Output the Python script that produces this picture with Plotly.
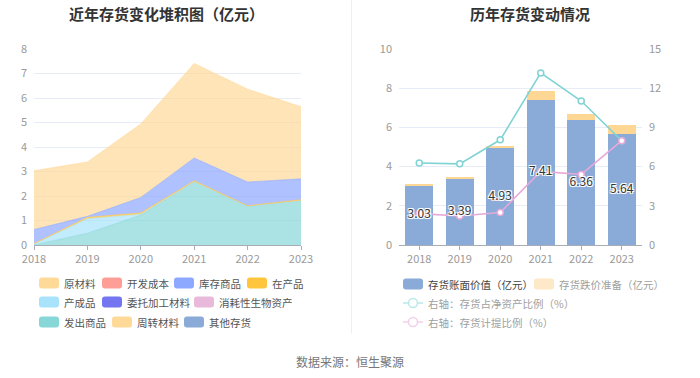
import plotly.graph_objects as go

# ---------------- data ----------------
years = [2018, 2019, 2020, 2021, 2022, 2023]
year_labels = ["2018", "2019", "2020", "2021", "2022", "2023"]

# left chart (亿元)
raw_material = [2.40, 2.22, 3.00, 3.86, 3.79, 2.94]      # 原材料
dev_cost = [0, 0, 0, 0, 0, 0]                              # 开发成本
stock_goods = [0.57, 0.04, 0.63, 0.93, 0.97, 0.85]        # 库存商品
wip = [0.03, 0.06, 0.06, 0.05, 0.03, 0.05]                 # 在产品
finished = [0.03, 0.59, 0.03, 0.0, 0.0, 0.0]               # 产成品
consigned = [0, 0, 0, 0, 0, 0]                             # 委托加工材料
bio_assets = [0, 0, 0, 0, 0, 0]                            # 消耗性生物资产
shipped = [0.0, 0.48, 1.22, 2.57, 1.57, 1.80]              # 发出商品
turnover = [0, 0, 0, 0, 0, 0]                              # 周转材料
other_inv = [0, 0, 0, 0, 0, 0]                             # 其他存货

# right chart
book_value = [3.03, 3.39, 4.93, 7.41, 6.36, 5.64]         # 存货账面价值（亿元）
impairment = [0.07, 0.07, 0.13, 0.43, 0.34, 0.48]         # 存货跌价准备（亿元）
ratio_net_assets = [6.27, 6.21, 8.05, 13.17, 11.02, 7.98]  # 存货占净资产比例（%）
provision_ratio = [2.40, 2.22, 2.48, 5.63, 5.40, 7.98]    # 存货计提比例（%）

W, H = 700, 378
FONT = "Noto Sans CJK SC, Noto Sans, sans-serif"


def px(x):
    return x / W


def py(y):
    return 1 - y / H


def rgba(hexc, a):
    hexc = hexc.lstrip("#")
    r, g, b = int(hexc[0:2], 16), int(hexc[2:4], 16), int(hexc[4:6], 16)
    return f"rgba({r},{g},{b},{a})"


fig = go.Figure()

# ---------------- left: stacked area ----------------
area_series = [
    ("发出商品", shipped, "#88d7d8"),
    ("产成品", finished, "#a8e2fb"),
    ("在产品", wip, "#ffc53d"),
    ("库存商品", stock_goods, "#8da8ff"),
    ("原材料", raw_material, "#ffd998"),
    ("开发成本", dev_cost, "#ff9e96"),
    ("委托加工材料", consigned, "#7376f0"),
    ("消耗性生物资产", bio_assets, "#e8b9da"),
    ("周转材料", turnover, "#ffd998"),
    ("其他存货", other_inv, "#8aaad8"),
]
for name, vals, col in area_series:
    nonzero = any(v > 0 for v in vals)
    fig.add_trace(go.Scatter(
        x=years, y=vals, name=name, stackgroup="inv", mode="lines",
        line=dict(color=col, width=0.6 if nonzero else 0),
        fillcolor=rgba(col, 0.7),
        xaxis="x", yaxis="y", showlegend=False,
    ))

# ---------------- right: bars + lines ----------------
fig.add_trace(go.Bar(
    x=years, y=book_value, name="存货账面价值（亿元）",
    marker=dict(color="#8aaad8", line=dict(width=0)),
    xaxis="x2", yaxis="y2", showlegend=False,
))
fig.add_trace(go.Bar(
    x=years, y=impairment, name="存货跌价准备（亿元）",
    marker=dict(color="#ffd794", line=dict(width=0)),
    xaxis="x2", yaxis="y2", showlegend=False,
))
fig.add_trace(go.Scatter(
    x=years, y=ratio_net_assets, name="右轴：存货占净资产比例（%）",
    mode="lines+markers",
    line=dict(color="#7fd3d4", width=1.6),
    marker=dict(symbol="circle", size=6, color="white",
                line=dict(color="#7fd3d4", width=1.5)),
    xaxis="x2", yaxis="y3", showlegend=False,
))
fig.add_trace(go.Scatter(
    x=years, y=provision_ratio, name="右轴：存货计提比例（%）",
    mode="lines+markers",
    line=dict(color="#e6a9d9", width=1.6),
    marker=dict(symbol="circle", size=6, color="white",
                line=dict(color="#e6a9d9", width=1.5)),
    xaxis="x2", yaxis="y3", showlegend=False,
))
# value labels, centred in the book-value bars, drawn above the lines
fig.add_trace(go.Scatter(
    x=years, y=[v / 2 for v in book_value],
    text=[f"{v:.2f}" for v in book_value], mode="text",
    textfont=dict(family=FONT, size=12, color="#333333",
                  shadow="-1px -1px 0 #fff, 1px -1px 0 #fff, -1px 1px 0 #fff, 1px 1px 0 #fff, 0 0 2px #fff"),
    xaxis="x2", yaxis="y4", showlegend=False, hoverinfo="skip",
))

y_dom = [py(245), py(49)]
tickfont = dict(family=FONT, size=11, color="#9a9a9a")
grid = "#e8ecf6"

fig.update_layout(
    width=W, height=H,
    margin=dict(l=0, r=0, t=0, b=0, autoexpand=False),
    paper_bgcolor="white", plot_bgcolor="white",
    font=dict(family=FONT),
    barmode="stack", bargap=0.31,
    xaxis=dict(domain=[px(34), px(301)], range=[2018, 2023],
               tickvals=years, ticktext=year_labels, tickfont=tickfont,
               showgrid=False, zeroline=False, showline=True,
               linecolor="#a8acb6", ticks="outside", ticklen=4,
               tickcolor="#a8acb6", anchor="y", automargin=False),
    yaxis=dict(domain=y_dom, range=[0, 8], dtick=1, tickfont=tickfont,
               showgrid=True, gridcolor=grid, zeroline=False,
               showline=False, anchor="x", ticklabelstandoff=6,
               automargin=False),
    xaxis2=dict(domain=[px(399), px(642)], range=[2017.5, 2023.5],
                tickvals=years, ticktext=year_labels, tickfont=tickfont,
                showgrid=False, zeroline=False, showline=True,
                linecolor="#a8acb6", ticks="outside", ticklen=4,
                tickcolor="#a8acb6", anchor="y2", automargin=False),
    yaxis2=dict(domain=y_dom, range=[0, 10], dtick=2, tickfont=tickfont,
                showgrid=True, gridcolor=grid, zeroline=False,
                showline=False, anchor="x2", ticklabelstandoff=6,
                automargin=False),
    yaxis3=dict(domain=y_dom, range=[0, 15], dtick=3, tickfont=tickfont,
                overlaying="y2", side="right", anchor="x2",
                showgrid=False, zeroline=False, showline=False,
                ticklabelstandoff=6, automargin=False),
    yaxis4=dict(domain=y_dom, range=[0, 10], overlaying="y2",
                anchor="x2", visible=False, automargin=False),
)

annotations = []
shapes = []

# titles
annotations.append(dict(text="<b>近年存货变化堆积图（亿元）</b>", x=px(166), y=py(14),
                        xref="paper", yref="paper", showarrow=False,
                        font=dict(family=FONT, size=15, color="#333333"),
                        xanchor="center", yanchor="middle"))
annotations.append(dict(text="<b>历年存货变动情况</b>", x=px(530), y=py(14),
                        xref="paper", yref="paper", showarrow=False,
                        font=dict(family=FONT, size=15, color="#333333"),
                        xanchor="center", yanchor="middle"))
# source
annotations.append(dict(text="数据来源：恒生聚源", x=px(350), y=py(361),
                        xref="paper", yref="paper", showarrow=False,
                        font=dict(family=FONT, size=12, color="#777777"),
                        xanchor="center", yanchor="middle"))

# divider
shapes.append(dict(type="line", xref="paper", yref="paper",
                   x0=px(351.5), x1=px(351.5), y0=py(0), y1=py(333),
                   line=dict(color="#eeeeee", width=1)))


def rounded_rect(x0, y0, x1, y1, r, color):
    p = (f"M{px(x0 + r)},{py(y0)} L{px(x1 - r)},{py(y0)} "
         f"Q{px(x1)},{py(y0)} {px(x1)},{py(y0 + r)} "
         f"L{px(x1)},{py(y1 - r)} Q{px(x1)},{py(y1)} {px(x1 - r)},{py(y1)} "
         f"L{px(x0 + r)},{py(y1)} Q{px(x0)},{py(y1)} {px(x0)},{py(y1 - r)} "
         f"L{px(x0)},{py(y0 + r)} Q{px(x0)},{py(y0)} {px(x0 + r)},{py(y0)} Z")
    return dict(type="path", path=p, xref="paper", yref="paper",
                fillcolor=color, line=dict(width=0))


def legend_text(txt, x, y, color):
    return dict(text=txt, x=px(x), y=py(y), xref="paper", yref="paper",
                showarrow=False, xanchor="left", yanchor="middle",
                font=dict(family=FONT, size=10.5, color=color))


# left legend (name -> colour from the series list)
colour_of = {n: c for n, _, c in area_series}
left_legend = [
    ("原材料", 39, 283), ("开发成本", 102, 283), ("库存商品", 174, 283), ("在产品", 247, 283),
    ("产成品", 39, 302), ("委托加工材料", 102, 302), ("消耗性生物资产", 194, 302),
    ("发出商品", 39, 322), ("周转材料", 112, 322), ("其他存货", 184, 322),
]
for name, x, y in left_legend:
    shapes.append(rounded_rect(x, y - 5.5, x + 20, y + 5.5, 3, colour_of[name]))
    annotations.append(legend_text(name, x + 23, y, "#555555"))

# right legend
shapes.append(rounded_rect(403, 278.5, 423, 289.5, 3, "#8aaad8"))
annotations.append(legend_text("存货账面价值（亿元）", 426, 284, "#444444"))
shapes.append(rounded_rect(534, 278.5, 554, 289.5, 3, "#fde8c8"))
annotations.append(legend_text("存货跌价准备（亿元）", 557, 284, "#a0a0a0"))
for y, col, txt in [(303, "#b9e8e9", "右轴：存货占净资产比例（%）"),
                    (322, "#f2d0ea", "右轴：存货计提比例（%）")]:
    shapes.append(dict(type="line", xref="paper", yref="paper",
                       x0=px(403), x1=px(423), y0=py(y), y1=py(y),
                       line=dict(color=col, width=1.5)))
    shapes.append(dict(type="circle", xref="paper", yref="paper",
                       x0=px(408.5), x1=px(417.5), y0=py(y - 4.5), y1=py(y + 4.5),
                       fillcolor="white", line=dict(color=col, width=1.5)))
    annotations.append(legend_text(txt, 426, y, "#a0a0a0"))

fig.update_layout(annotations=annotations, shapes=shapes)

fig.write_html(
    "out.html",
    config={"displayModeBar": False},
    post_script="document.body.style.margin='0';document.body.style.overflow='hidden';",
)
